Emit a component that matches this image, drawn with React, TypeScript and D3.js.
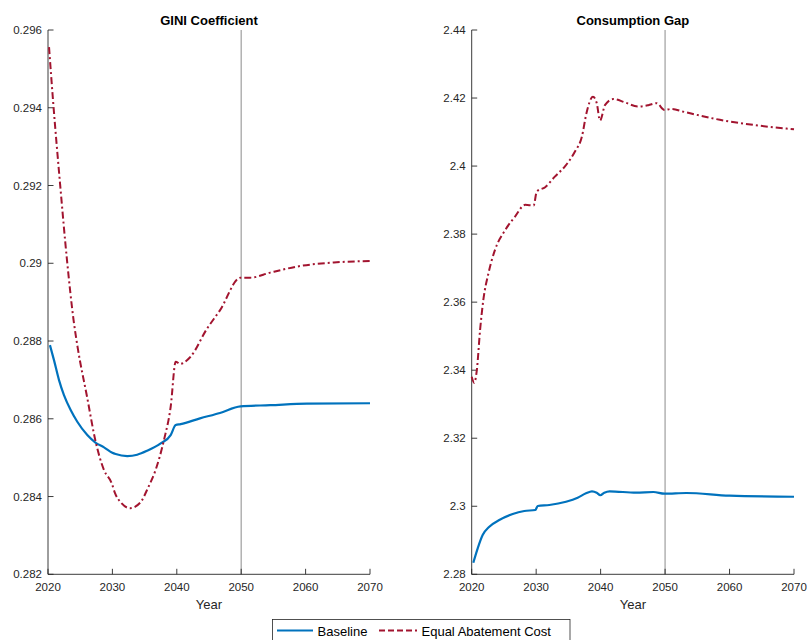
import React from "react";
import * as d3 from "d3";

// ---------- data ----------
const xTicks = [2020, 2030, 2040, 2050, 2060, 2070];
const giniTicks = [0.282, 0.284, 0.286, 0.288, 0.29, 0.292, 0.294, 0.296];
const gapTicks = [2.28, 2.3, 2.32, 2.34, 2.36, 2.38, 2.4, 2.42, 2.44];

const giniBaseYears = [2020.3, 2020.93, 2021.71, 2022.48, 2023.52, 2024.55, 2026.1, 2027.41, 2028.7, 2029.99, 2030.5, 2032.31, 2033.85, 2035.4, 2037.5, 2039.05, 2039.83, 2040.6, 2043.6, 2046.7, 2049.9, 2054.5, 2060.2, 2070];
const giniBase = [0.287894, 0.287509, 0.286995, 0.286609, 0.286224, 0.285923, 0.285581, 0.285383, 0.285265, 0.285126, 0.285093, 0.285041, 0.285075, 0.285177, 0.285368, 0.285581, 0.285838, 0.285864, 0.28601, 0.28615, 0.28632, 0.28635, 0.28639, 0.2864];

const giniEqualYears = [2020.16, 2020.78, 2021.87, 2022.95, 2023.97, 2024.59, 2026.07, 2027.4, 2028.7, 2029.9, 2030.42, 2031.2, 2032.75, 2034.3, 2035.6, 2036.7, 2038.0, 2039.05, 2039.83, 2040.5, 2042.1, 2044.7, 2046.7, 2049.9, 2051.4, 2054.5, 2059.2, 2064.4, 2070];
const giniEqual = [0.29556, 0.29419, 0.29205, 0.29008, 0.28854, 0.28785, 0.28656, 0.28541, 0.28468, 0.28434, 0.28408, 0.28387, 0.2837, 0.28384, 0.28425, 0.28468, 0.28545, 0.28631, 0.28747, 0.28741, 0.28759, 0.28832, 0.28879, 0.28963, 0.28963, 0.28976, 0.28993, 0.29002, 0.29006];

const gapBaseYears = [2020.25, 2020.93, 2021.7, 2022.73, 2024.28, 2026.36, 2028.16, 2029.87, 2030.24, 2032.04, 2034.63, 2036.44, 2037.73, 2038.66, 2039.39, 2039.95, 2040.57, 2041.4, 2045.5, 2048.2, 2049.9, 2053.3, 2060, 2070];
const gapBase = [2.28341, 2.28764, 2.29155, 2.29399, 2.29596, 2.29773, 2.29861, 2.2989, 2.30008, 2.30037, 2.30134, 2.30252, 2.30381, 2.3044, 2.30399, 2.30323, 2.30399, 2.3044, 2.304, 2.3042, 2.3037, 2.3039, 2.3031, 2.3028];

const gapEqualYears = [2020.0, 2020.4, 2020.8, 2021.3, 2021.8, 2022.6, 2023.6, 2025.2, 2026.7, 2028.3, 2029.6, 2030.1, 2031.4, 2032.9, 2034.5, 2036, 2037.1, 2037.8, 2038.8, 2039.4, 2039.9, 2040.7, 2042, 2043.8, 2045.8, 2047.4, 2048.7, 2049.9, 2051, 2052.8, 2058.5, 2063.7, 2070];
const gapEqual = [2.3381, 2.3363, 2.3401, 2.3518, 2.3606, 2.3685, 2.3753, 2.3812, 2.3851, 2.3886, 2.3884, 2.3925, 2.3938, 2.3969, 2.4, 2.4042, 2.4087, 2.4155, 2.4204, 2.4185, 2.4134, 2.418, 2.4197, 2.4187, 2.4175, 2.4179, 2.4185, 2.4165, 2.4168, 2.416, 2.4136, 2.4121, 2.4108];

const seriesNames = ["Baseline", "Equal Abatement Cost"];
const markerYear = 2050;

// ---------- styles ----------
const BLUE = "#0072BD";
const RED = "#A2142F";
const AX = "#262626";
const FONT = "'Liberation Sans', Arial, Helvetica, sans-serif";
const DASH = "7,3,2,3";

type PanelProps = {
  title: string;
  x0: number;
  x1: number;
  yTicks: number[];
  base: [number[], number[]];
  equal: [number[], number[]];
};

const Y0 = 30;
const Y1 = 574.3;

function Panel({ title, x0, x1, yTicks, base, equal }: PanelProps) {
  const x = d3.scaleLinear().domain([2020, 2070]).range([x0, x1]);
  const y = d3
    .scaleLinear()
    .domain([yTicks[0], yTicks[yTicks.length - 1]])
    .range([Y1, Y0]);
  const line = (xs: number[], ys: number[]) =>
    d3
      .line<number>()
      .x((_, i) => x(xs[i]))
      .y((v) => y(v))
      .curve(d3.curveMonotoneX)(ys) || "";
  const fmt = (v: number) => String(+v.toFixed(4));
  const cx = (x0 + x1) / 2;
  return (
    <g>
      <text x={cx} y={25} textAnchor="middle" fontSize={13} fontWeight="bold" fill="#000">
        {title}
      </text>
      <line x1={x(markerYear)} x2={x(markerYear)} y1={Y0} y2={Y1} stroke="#a6a6a6" strokeWidth={1.3} />
      {/* axes */}
      <line x1={x0} x2={x0} y1={Y0} y2={Y1} stroke={AX} strokeWidth={0.9} />
      <line x1={x0} x2={x1} y1={Y1} y2={Y1} stroke={AX} strokeWidth={0.9} />
      {yTicks.map((t) => (
        <g key={"y" + t}>
          <line x1={x0} x2={x0 + 5.5} y1={y(t)} y2={y(t)} stroke={AX} strokeWidth={0.9} />
          <text x={x0 - 6} y={y(t) + 4} textAnchor="end" fontSize={11.5} fill={AX}>
            {fmt(t)}
          </text>
        </g>
      ))}
      {xTicks.map((t) => (
        <g key={"x" + t}>
          <line x1={x(t)} x2={x(t)} y1={Y1} y2={Y1 - 5.5} stroke={AX} strokeWidth={0.9} />
          <text x={x(t)} y={591} textAnchor="middle" fontSize={11.5} fill={AX}>
            {t}
          </text>
        </g>
      ))}
      <text x={cx} y={608.5} textAnchor="middle" fontSize={13} fill={AX}>
        Year
      </text>
      <path d={line(base[0], base[1])} fill="none" stroke={BLUE} strokeWidth={2.2} strokeLinejoin="round" />
      <path d={line(equal[0], equal[1])} fill="none" stroke={RED} strokeWidth={2} strokeDasharray={DASH} />
    </g>
  );
}

export default function App() {
  return (
    <svg
      width={807}
      height={640}
      style={{ position: "absolute", left: 0, top: 0, background: "#fff" }}
      fontFamily={FONT}
    >
      <rect width={807} height={640} fill="#fff" />
      <Panel
        title="GINI Coefficient"
        x0={48}
        x1={370}
        yTicks={giniTicks}
        base={[giniBaseYears, giniBase]}
        equal={[giniEqualYears, giniEqual]}
      />
      <Panel
        title="Consumption Gap"
        x0={471.7}
        x1={794}
        yTicks={gapTicks}
        base={[gapBaseYears, gapBase]}
        equal={[gapEqualYears, gapEqual]}
      />
      {/* legend */}
      <g>
        <rect x={272.5} y={619.5} width={297.5} height={24} fill="#fff" stroke={AX} strokeWidth={0.8} />
        <line x1={277} x2={313} y1={630.5} y2={630.5} stroke={BLUE} strokeWidth={2} />
        <text x={317.5} y={635.5} fontSize={13} fill="#000">
          {seriesNames[0]}
        </text>
        <line x1={379} x2={417} y1={630.5} y2={630.5} stroke={RED} strokeWidth={2} strokeDasharray="6,3" />
        <text x={421.5} y={635.5} fontSize={13} fill="#000">
          {seriesNames[1]}
        </text>
      </g>
    </svg>
  );
}
